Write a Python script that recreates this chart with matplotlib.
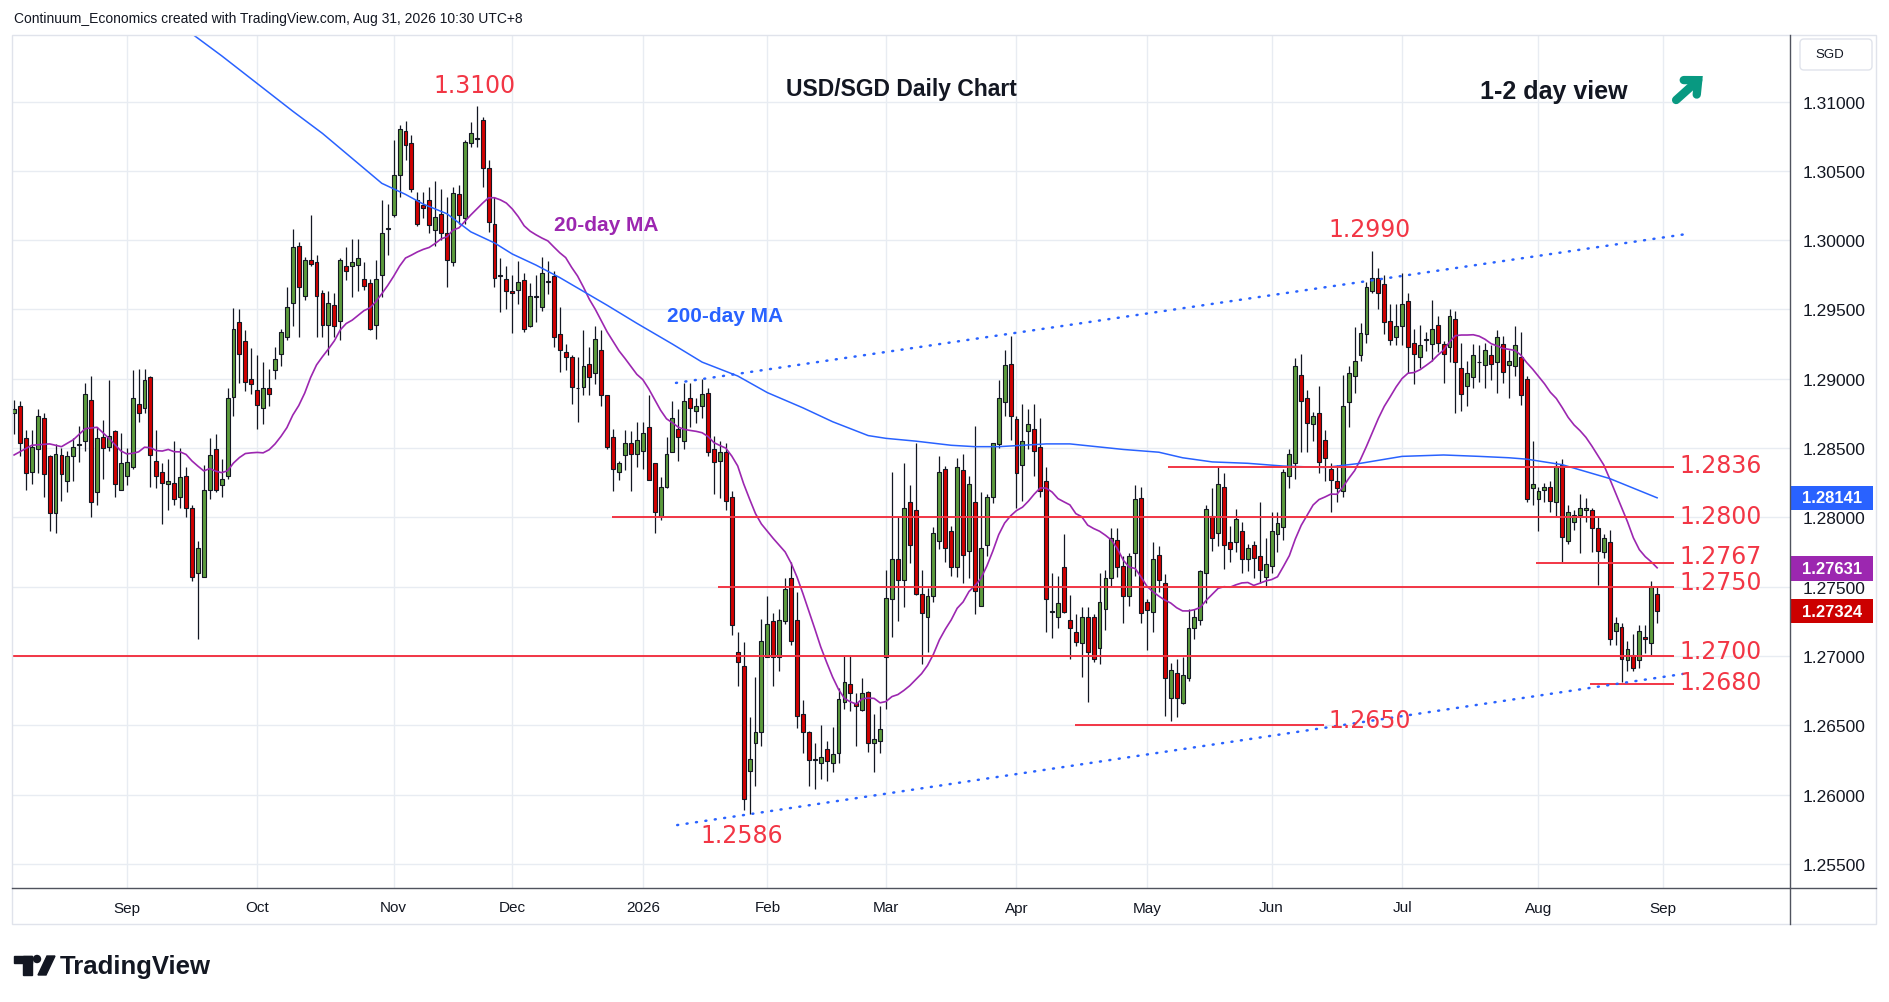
import numpy as np
import pandas as pd
import matplotlib
matplotlib.use("Agg")
import matplotlib.pyplot as plt
from matplotlib.patches import Rectangle, Circle, Polygon, FancyBboxPatch
from matplotlib.lines import Line2D
from matplotlib.transforms import blended_transform_factory, IdentityTransform

plt.rcParams['font.family'] = ['Liberation Sans', 'DejaVu Sans']

# daily USD/SGD candles, Aug 5 2025 .. Aug 31 2026
opens = [
    1.2875, 1.2880, 1.2857, 1.2833, 1.2849, 1.2872, 1.2844, 1.2803, 1.2845, 1.2826,
    1.2844, 1.2852, 1.2855, 1.2885, 1.2818, 1.2858, 1.2851, 1.2862, 1.2820, 1.2830,
    1.2836, 1.2882, 1.2879, 1.2901, 1.2841, 1.2833, 1.2824, 1.2825, 1.2815, 1.2830,
    1.2807, 1.2760, 1.2757, 1.2820, 1.2849, 1.2823, 1.2830, 1.2887, 1.2941, 1.2927,
    1.2900, 1.2892, 1.2879, 1.2893, 1.2906, 1.2918, 1.2930, 1.2955, 1.2996, 1.2960,
    1.2986, 1.2984, 1.2962, 1.2939, 1.2953, 1.2942, 1.2981, 1.2981, 1.2982, 1.2972,
    1.2969, 1.2939, 1.2975, 1.3008, 1.3018, 1.3047, 1.3079, 1.3070, 1.3029, 1.3025,
    1.3029, 1.3007, 1.3019, 1.3005, 1.2984, 1.3033, 1.3016, 1.3070, 1.3074, 1.3087,
    1.3052, 1.3012, 1.2975, 1.2972, 1.2963, 1.2964, 1.2971, 1.2938, 1.2959, 1.2952,
    1.2970, 1.2974, 1.2932, 1.2919, 1.2916, 1.2893, 1.2894, 1.2911, 1.2904, 1.2921,
    1.2888, 1.2858, 1.2833, 1.2845, 1.2854, 1.2846, 1.2848, 1.2865, 1.2839, 1.2801,
    1.2822, 1.2847, 1.2864, 1.2855, 1.2886, 1.2877, 1.2880, 1.2890, 1.2849, 1.2841,
    1.2847, 1.2815, 1.2703, 1.2693, 1.2617, 1.2637, 1.2645, 1.2699, 1.2725, 1.2699,
    1.2725, 1.2756, 1.2726, 1.2658, 1.2645, 1.2625, 1.2623, 1.2633, 1.2623, 1.2630,
    1.2667, 1.2680, 1.2666, 1.2661, 1.2674, 1.2637, 1.2639, 1.2699, 1.2741, 1.2770,
    1.2755, 1.2811, 1.2805, 1.2745, 1.2728, 1.2743, 1.2783, 1.2835, 1.2790, 1.2764,
    1.2834, 1.2776, 1.2811, 1.2736, 1.2780, 1.2815, 1.2853, 1.2883, 1.2911, 1.2871,
    1.2838, 1.2862, 1.2864, 1.2851, 1.2826, 1.2732, 1.2728, 1.2764, 1.2726, 1.2717,
    1.2709, 1.2728, 1.2728, 1.2706, 1.2734, 1.2756, 1.2784, 1.2765, 1.2743, 1.2774,
    1.2814, 1.2739, 1.2732, 1.2773, 1.2753, 1.2670, 1.2688, 1.2666, 1.2684, 1.2720,
    1.2726, 1.2760, 1.2801, 1.2789, 1.2822, 1.2782, 1.2782, 1.2790, 1.2770, 1.2780,
    1.2772, 1.2757, 1.2765, 1.2788, 1.2793, 1.2830, 1.2839, 1.2903, 1.2886, 1.2867,
    1.2875, 1.2856, 1.2835, 1.2826, 1.2819, 1.2883, 1.2902, 1.2917, 1.2932, 1.2963,
    1.2973, 1.2968, 1.2942, 1.2930, 1.2938, 1.2956, 1.2926, 1.2916, 1.2928, 1.2925,
    1.2939, 1.2925, 1.2923, 1.2943, 1.2908, 1.2895, 1.2901, 1.2912, 1.2910, 1.2917,
    1.2912, 1.2925, 1.2910, 1.2909, 1.2916, 1.2900, 1.2821, 1.2813, 1.2820, 1.2822,
    1.2811, 1.2838, 1.2783, 1.2797, 1.2802, 1.2805, 1.2805, 1.2792, 1.2775, 1.2782,
    1.2718, 1.2721, 1.2697, 1.2701, 1.2697, 1.2714, 1.2709, 1.2745,
]
highs = [
    1.2885, 1.2884, 1.2863, 1.2863, 1.2878, 1.2875, 1.2845, 1.2853, 1.2850, 1.2848,
    1.2857, 1.2866, 1.2897, 1.2902, 1.2865, 1.2870, 1.2899, 1.2863, 1.2861, 1.2850,
    1.2906, 1.2907, 1.2907, 1.2902, 1.2863, 1.2839, 1.2842, 1.2855, 1.2850, 1.2836,
    1.2809, 1.2783, 1.2838, 1.2857, 1.2860, 1.2842, 1.2893, 1.2951, 1.2950, 1.2935,
    1.2922, 1.2917, 1.2912, 1.2907, 1.2923, 1.2936, 1.2966, 1.3008, 1.2999, 1.2988,
    1.3018, 1.2989, 1.2964, 1.2963, 1.2962, 1.2987, 1.2995, 1.3001, 1.3001, 1.2984,
    1.2972, 1.2986, 1.3029, 1.3026, 1.3072, 1.3083, 1.3086, 1.3076, 1.3035, 1.3035,
    1.3038, 1.3043, 1.3037, 1.3031, 1.3038, 1.3040, 1.3072, 1.3085, 1.3097, 1.3089,
    1.3058, 1.3031, 1.2987, 1.2981, 1.2975, 1.2985, 1.2976, 1.2969, 1.2975, 1.2988,
    1.2985, 1.2978, 1.2952, 1.2925, 1.2917, 1.2916, 1.2935, 1.2923, 1.2938, 1.2935,
    1.2888, 1.2864, 1.2841, 1.2863, 1.2862, 1.2869, 1.2869, 1.2888, 1.2839, 1.2829,
    1.2858, 1.2884, 1.2878, 1.2897, 1.2897, 1.2886, 1.2900, 1.2893, 1.2859, 1.2855,
    1.2854, 1.2819, 1.2717, 1.2710, 1.2656, 1.2685, 1.2727, 1.2743, 1.2731, 1.2734,
    1.2756, 1.2768, 1.2746, 1.2668, 1.2646, 1.2637, 1.2650, 1.2639, 1.2649, 1.2677,
    1.2700, 1.2700, 1.2673, 1.2684, 1.2675, 1.2658, 1.2664, 1.2762, 1.2833, 1.2800,
    1.2839, 1.2823, 1.2854, 1.2762, 1.2749, 1.2793, 1.2844, 1.2837, 1.2794, 1.2843,
    1.2846, 1.2830, 1.2866, 1.2818, 1.2817, 1.2854, 1.2899, 1.2921, 1.2931, 1.2873,
    1.2882, 1.2878, 1.2882, 1.2872, 1.2836, 1.2760, 1.2758, 1.2788, 1.2744, 1.2730,
    1.2735, 1.2735, 1.2730, 1.2760, 1.2762, 1.2792, 1.2792, 1.2772, 1.2774, 1.2823,
    1.2822, 1.2741, 1.2782, 1.2779, 1.2759, 1.2695, 1.2698, 1.2699, 1.2734, 1.2734,
    1.2762, 1.2809, 1.2821, 1.2837, 1.2832, 1.2794, 1.2806, 1.2797, 1.2781, 1.2783,
    1.2811, 1.2785, 1.2804, 1.2804, 1.2835, 1.2849, 1.2915, 1.2918, 1.2892, 1.2876,
    1.2895, 1.2863, 1.2839, 1.2838, 1.2903, 1.2909, 1.2937, 1.2940, 1.2970, 1.2992,
    1.2980, 1.2975, 1.2954, 1.2954, 1.2976, 1.2962, 1.2936, 1.2939, 1.2934, 1.2957,
    1.2945, 1.2927, 1.2950, 1.2949, 1.2926, 1.2913, 1.2925, 1.2924, 1.2926, 1.2924,
    1.2935, 1.2931, 1.2921, 1.2938, 1.2934, 1.2902, 1.2855, 1.2822, 1.2825, 1.2826,
    1.2841, 1.2842, 1.2809, 1.2805, 1.2817, 1.2814, 1.2807, 1.2800, 1.2788, 1.2791,
    1.2728, 1.2724, 1.2711, 1.2716, 1.2722, 1.2722, 1.2754, 1.2750,
]
lows = [
    1.2860, 1.2844, 1.2820, 1.2824, 1.2832, 1.2815, 1.2790, 1.2789, 1.2812, 1.2818,
    1.2826, 1.2840, 1.2848, 1.2800, 1.2809, 1.2828, 1.2848, 1.2815, 1.2820, 1.2823,
    1.2835, 1.2869, 1.2875, 1.2822, 1.2821, 1.2795, 1.2805, 1.2809, 1.2807, 1.2800,
    1.2754, 1.2712, 1.2757, 1.2813, 1.2818, 1.2815, 1.2828, 1.2873, 1.2897, 1.2891,
    1.2889, 1.2864, 1.2867, 1.2880, 1.2900, 1.2909, 1.2928, 1.2938, 1.2930, 1.2957,
    1.2981, 1.2930, 1.2930, 1.2917, 1.2930, 1.2928, 1.2971, 1.2959, 1.2963, 1.2964,
    1.2935, 1.2929, 1.2959, 1.2989, 1.3017, 1.3031, 1.3058, 1.3035, 1.3010, 1.3016,
    1.3005, 1.2996, 1.3000, 1.2966, 1.2981, 1.3012, 1.3012, 1.3067, 1.3067, 1.3038,
    1.3006, 1.2966, 1.2948, 1.2950, 1.2933, 1.2954, 1.2934, 1.2937, 1.2941, 1.2949,
    1.2961, 1.2923, 1.2905, 1.2906, 1.2882, 1.2869, 1.2888, 1.2888, 1.2896, 1.2880,
    1.2849, 1.2819, 1.2827, 1.2834, 1.2819, 1.2836, 1.2835, 1.2827, 1.2789, 1.2798,
    1.2821, 1.2847, 1.2841, 1.2849, 1.2865, 1.2868, 1.2872, 1.2844, 1.2817, 1.2814,
    1.2805, 1.2715, 1.2678, 1.2589, 1.2586, 1.2606, 1.2635, 1.2699, 1.2678, 1.2689,
    1.2723, 1.2708, 1.2648, 1.2630, 1.2606, 1.2604, 1.2611, 1.2610, 1.2616, 1.2623,
    1.2662, 1.2660, 1.2635, 1.2660, 1.2631, 1.2616, 1.2630, 1.2662, 1.2714, 1.2725,
    1.2735, 1.2767, 1.2744, 1.2694, 1.2703, 1.2739, 1.2777, 1.2768, 1.2758, 1.2757,
    1.2753, 1.2756, 1.2730, 1.2736, 1.2772, 1.2810, 1.2850, 1.2873, 1.2856, 1.2807,
    1.2812, 1.2849, 1.2830, 1.2815, 1.2717, 1.2713, 1.2720, 1.2731, 1.2698, 1.2707,
    1.2685, 1.2667, 1.2696, 1.2694, 1.2719, 1.2750, 1.2757, 1.2724, 1.2736, 1.2758,
    1.2724, 1.2704, 1.2717, 1.2746, 1.2657, 1.2653, 1.2656, 1.2665, 1.2682, 1.2712,
    1.2722, 1.2738, 1.2776, 1.2779, 1.2763, 1.2768, 1.2775, 1.2760, 1.2761, 1.2756,
    1.2753, 1.2750, 1.2760, 1.2775, 1.2784, 1.2821, 1.2828, 1.2847, 1.2847, 1.2855,
    1.2832, 1.2826, 1.2804, 1.2811, 1.2815, 1.2865, 1.2890, 1.2913, 1.2926, 1.2962,
    1.2950, 1.2932, 1.2924, 1.2924, 1.2924, 1.2904, 1.2896, 1.2908, 1.2920, 1.2913,
    1.2919, 1.2897, 1.2912, 1.2875, 1.2877, 1.2880, 1.2893, 1.2898, 1.2893, 1.2899,
    1.2890, 1.2897, 1.2886, 1.2902, 1.2881, 1.2811, 1.2809, 1.2790, 1.2811, 1.2804,
    1.2801, 1.2768, 1.2781, 1.2791, 1.2774, 1.2797, 1.2775, 1.2751, 1.2771, 1.2708,
    1.2708, 1.2681, 1.2689, 1.2689, 1.2691, 1.2702, 1.2701, 1.2724,
]
closes = [
    1.2878, 1.2854, 1.2832, 1.2851, 1.2873, 1.2831, 1.2803, 1.2846, 1.2831, 1.2844,
    1.2851, 1.2853, 1.2889, 1.2811, 1.2857, 1.2850, 1.2859, 1.2824, 1.2839, 1.2840,
    1.2886, 1.2875, 1.2899, 1.2845, 1.2830, 1.2825, 1.2826, 1.2813, 1.2829, 1.2807,
    1.2757, 1.2778, 1.2820, 1.2845, 1.2820, 1.2828, 1.2886, 1.2936, 1.2918, 1.2898,
    1.2896, 1.2881, 1.2893, 1.2889, 1.2914, 1.2934, 1.2952, 1.2995, 1.2966, 1.2986,
    1.2983, 1.2960, 1.2939, 1.2955, 1.2938, 1.2986, 1.2978, 1.2984, 1.2987, 1.2967,
    1.2936, 1.2972, 1.3005, 1.3009, 1.3047, 1.3080, 1.3069, 1.3037, 1.3012, 1.3023,
    1.3011, 1.3017, 1.3005, 1.2986, 1.3034, 1.3018, 1.3071, 1.3077, 1.3073, 1.3052,
    1.3013, 1.2973, 1.2974, 1.2963, 1.2962, 1.2970, 1.2936, 1.2960, 1.2959, 1.2976,
    1.2970, 1.2930, 1.2921, 1.2916, 1.2894, 1.2893, 1.2909, 1.2901, 1.2929, 1.2888,
    1.2851, 1.2835, 1.2839, 1.2854, 1.2846, 1.2856, 1.2861, 1.2827, 1.2804, 1.2822,
    1.2846, 1.2872, 1.2858, 1.2884, 1.2879, 1.2880, 1.2889, 1.2847, 1.2840, 1.2847,
    1.2812, 1.2722, 1.2696, 1.2597, 1.2626, 1.2645, 1.2711, 1.2723, 1.2699, 1.2726,
    1.2748, 1.2711, 1.2657, 1.2645, 1.2625, 1.2626, 1.2627, 1.2624, 1.2629, 1.2669,
    1.2681, 1.2673, 1.2664, 1.2673, 1.2637, 1.2640, 1.2647, 1.2742, 1.2770, 1.2755,
    1.2807, 1.2780, 1.2745, 1.2731, 1.2743, 1.2789, 1.2833, 1.2778, 1.2764, 1.2836,
    1.2773, 1.2824, 1.2747, 1.2778, 1.2815, 1.2854, 1.2886, 1.2910, 1.2873, 1.2832,
    1.2855, 1.2867, 1.2848, 1.2819, 1.2741, 1.2732, 1.2738, 1.2732, 1.2720, 1.2710,
    1.2728, 1.2703, 1.2698, 1.2739, 1.2756, 1.2785, 1.2764, 1.2743, 1.2772, 1.2813,
    1.2731, 1.2733, 1.2770, 1.2755, 1.2684, 1.2690, 1.2670, 1.2686, 1.2720, 1.2728,
    1.2761, 1.2806, 1.2785, 1.2824, 1.2780, 1.2777, 1.2799, 1.2770, 1.2778, 1.2771,
    1.2762, 1.2766, 1.2790, 1.2796, 1.2833, 1.2846, 1.2909, 1.2884, 1.2868, 1.2873,
    1.2840, 1.2843, 1.2827, 1.2821, 1.2880, 1.2904, 1.2913, 1.2933, 1.2966, 1.2973,
    1.2962, 1.2941, 1.2928, 1.2938, 1.2954, 1.2923, 1.2918, 1.2924, 1.2928, 1.2936,
    1.2926, 1.2918, 1.2945, 1.2912, 1.2889, 1.2904, 1.2917, 1.2912, 1.2921, 1.2911,
    1.2930, 1.2905, 1.2913, 1.2924, 1.2888, 1.2813, 1.2824, 1.2819, 1.2822, 1.2812,
    1.2837, 1.2786, 1.2804, 1.2802, 1.2807, 1.2807, 1.2792, 1.2776, 1.2785, 1.2712,
    1.2724, 1.2698, 1.2705, 1.2691, 1.2718, 1.2712, 1.2750, 1.27324,
]

# 200-day MA (candle index, value)
ma200_idx = [29, 35, 41, 47, 52, 57, 62, 66, 69, 73, 77, 81, 84, 88, 92, 96, 100, 105,
             111, 116, 122, 127, 133, 138, 144, 147, 152, 158, 162, 166, 174, 178, 187,
             193, 197, 202, 208, 214, 221, 227, 234, 241, 247, 252, 255, 261, 269, 277]
ma200_val = [1.3152, 1.3133, 1.3113, 1.3093, 1.3077, 1.3059, 1.3041, 1.3033, 1.3026,
             1.3019, 1.3006, 1.2998, 1.2990, 1.2982, 1.2973, 1.2963, 1.2953, 1.2940,
             1.2925, 1.2912, 1.2902, 1.2890, 1.2879, 1.2869, 1.2859, 1.2857, 1.2855,
             1.2852, 1.2851, 1.2851, 1.2853, 1.2853, 1.2849, 1.2847, 1.2843, 1.2840,
             1.2839, 1.2837, 1.2836, 1.2839, 1.2844, 1.2845, 1.2844, 1.2843, 1.2842,
             1.2838, 1.2828, 1.28141]
# 20-day MA before there are 20 visible closes
ma20_head_idx = [0, 3, 6, 8, 10, 12, 14, 16, 18]
ma20_head_val = [1.2845, 1.2852, 1.2853, 1.2851, 1.2856, 1.2864, 1.2865, 1.2857, 1.2848]

levels = [1.2836, 1.2800, 1.2767, 1.2750, 1.2700, 1.2680, 1.2650]
level_text = ['1.2836', '1.2800', '1.2767', '1.2750', '1.2700', '1.2680']
level_text_y = [1.28381, 1.28013, 1.27724, 1.27537, 1.27039, 1.26815]
level_from = [194.6, 100.8, 256.5, 118.6, -1, 265.6, 178.8]
level_to = [279.8, 279.8, 279.8, 279.8, 279.8, 279.8, 220.9]

tag_vals = [1.28141, 1.27631, 1.27324]
tag_cols = ['#2962ff', '#9c27b0', '#cc0000']

RED = '#f23645'
GREEN_C = '#5c9b3c'
RED_C = '#d10000'
INK = '#131722'
LBL = dict(color=RED, fontsize=17, family=['DejaVu Sans'])

W, H = 1889, 1003
fig = plt.figure(figsize=(W / 100, H / 100), dpi=100)
ax = fig.add_axes([12 / W, 1 - 889 / H, (1790 - 12) / W, (889 - 36) / H])

o = np.array(opens); hi = np.array(highs); lo = np.array(lows); c = np.array(closes)
n = len(c)
x = np.arange(n)
up = c >= o

ax.vlines(x, lo, hi, color=INK, lw=0.9, zorder=3)
ax.bar(x, np.maximum(np.abs(c - o), 0.00004), bottom=np.minimum(o, c), width=0.66,
       color=np.where(up, GREEN_C, RED_C), edgecolor=INK, linewidth=0.8, zorder=4)

ma20 = pd.Series(c).rolling(20).mean()
ma20_x = ma20_head_idx + list(range(19, n))
ma20_y = ma20_head_val + list(ma20.iloc[19:])
ax.plot(ma20_x, ma20_y, color='#9c27b0', lw=1.2, zorder=5)
ax.plot(ma200_idx, ma200_val, color='#2962ff', lw=1.1, zorder=5)

# support / resistance lines
for lv, a, b in zip(levels, level_from, level_to):
    ax.plot([a, b], [lv, lv], color=RED, lw=1.4, zorder=6, solid_capstyle='butt')
for s, yy in zip(level_text, level_text_y):
    ax.text(280.7, yy, s, ha='left', va='center', zorder=7, **LBL)

ax.text(77.6, 1.31122, '1.3100', ha='center', va='center', **LBL)
ax.text(228.6, 1.30077, '1.2990', ha='center', va='center', **LBL)
ax.text(122.6, 1.25707, '1.2586', ha='center', va='center', **LBL)
ax.text(228.6, 1.26536, '1.2650', ha='center', va='center', zorder=7, **LBL)

# channel lines
dots = dict(color='#2962ff', lw=1.8, linestyle=(0, (0.4, 3.4)), dash_capstyle='round', zorder=6)
ax.plot([111.6, 281.3], [1.2897, 1.3004], **dots)
ax.plot([111.8, 281.3], [1.2578, 1.2687], **dots)

ax.text(99.8, 1.30114, '20-day MA', color='#9c27b0', fontsize=15, fontweight='bold',
        ha='center', va='center')
ax.text(119.9, 1.29453, '200-day MA', color='#2962ff', fontsize=15, fontweight='bold',
        ha='center', va='center')

ax.text(149.6, 1.31095, 'USD/SGD Daily Chart', color=INK, fontsize=16.5, fontweight='bold',
        ha='center', va='center')
ax.text(259.5, 1.31075, '1-2 day view', color=INK, fontsize=18, fontweight='bold',
        ha='center', va='center')
ax.annotate('', xy=(284.7, 1.31184), xytext=(280.2, 1.31011),
            arrowprops=dict(arrowstyle='->,head_length=0.55,head_width=0.5', lw=6,
                            color='#089981', shrinkA=0, shrinkB=0, mutation_scale=14,
                            capstyle='round', joinstyle='miter'), annotation_clip=False)

# axes, ticks, grid
hols = ['2025-12-25', '2026-01-01']
dates = pd.bdate_range(end='2026-08-31', periods=n, freq='C', holidays=hols)
dates = dates.append(pd.bdate_range(start='2026-09-01', periods=30, freq='C', holidays=hols))
xt, xl = [], []
for i in range(1, 300):
    if dates[i].month != dates[i - 1].month:
        xt.append(i)
        xl.append(str(dates[i].year) if dates[i].month == 1 else dates[i].strftime('%b'))
ax.set_xticks(xt, xl)
yt = np.arange(1.255, 1.3101, 0.005)
ax.yaxis.tick_right()
ax.set_yticks(yt, ['%.5f' % v for v in yt])
ax.tick_params(axis='x', length=0, pad=9, labelsize=11, labelcolor=INK)
ax.tick_params(axis='y', length=0, pad=9, labelsize=12.5, labelcolor=INK)
ax.set_xlim(-0.34, 299.4)
ax.set_ylim(1.25326, 1.3148)
ax.grid(True, color='#e8ecf2', lw=1)
ax.set_axisbelow(True)
for sp in ax.spines.values():
    sp.set_visible(False)

# price tags on the scale
tr = blended_transform_factory(ax.transAxes, ax.transData)
for v, col in zip(tag_vals, tag_cols):
    ax.add_patch(Rectangle((1.0006, v - 0.00087), 0.0461, 0.00174, transform=tr,
                           facecolor=col, edgecolor='none', clip_on=False, zorder=8))
    ax.text(1.0236, v, '%.5f' % v, transform=tr, color='white', fontsize=12,
            fontweight='bold', ha='center', va='center', zorder=9, clip_on=False)

# panel frame and header / footer
idt = IdentityTransform()
fig.add_artist(Rectangle((12, H - 925), 1864, 889, transform=idt, fill=False,
                         edgecolor='#e0e3eb', lw=1))
fig.add_artist(Line2D([12, 1876], [H - 889, H - 889], transform=idt, color='#50535e', lw=1))
fig.add_artist(Line2D([1790, 1790], [H - 36, H - 925], transform=idt, color='#50535e', lw=1))
fig.add_artist(FancyBboxPatch((1800, H - 71), 72, 31, boxstyle='round,pad=0,rounding_size=4',
                              transform=idt, facecolor='white', edgecolor='#e0e3eb', lw=1))
fig.text(1815 / W, 1 - 55 / H, 'SGD', fontsize=9.5, color=INK, va='center')
fig.text(14 / W, 1 - 19 / H,
         'Continuum_Economics created with TradingView.com, Aug 31, 2026 10:30 UTC+8',
         fontsize=10, color=INK, va='center')

fig.add_artist(Rectangle((14, H - 964), 18, 7, transform=idt, color=INK))
fig.add_artist(Rectangle((23, H - 976), 9, 19, transform=idt, color=INK))
fig.add_artist(Circle((37, H - 960), 3.5, transform=idt, color=INK))
fig.add_artist(Polygon([(38, H - 976), (46, H - 976), (55, H - 957), (47, H - 957)],
                       transform=idt, color=INK))
fig.text(60 / W, 1 - 967 / H, 'TradingView', fontsize=18.5, fontweight='bold', color=INK,
         va='center')

fig.savefig('out.png', dpi=100, facecolor='white')
